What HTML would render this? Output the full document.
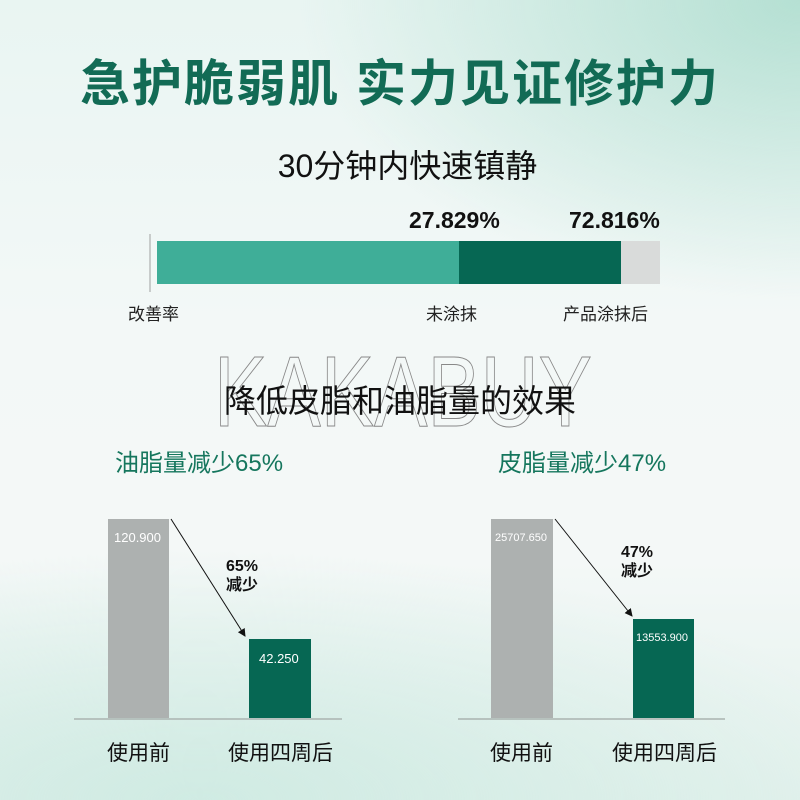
<!DOCTYPE html>
<html><head><meta charset="utf-8"><style>
*{margin:0;padding:0}
body{width:800px;height:800px;overflow:hidden;position:relative;font-family:"Liberation Sans","Noto Sans CJK SC",sans-serif;
background:radial-gradient(ellipse 500px 300px at 800px 0,#b5e0d3 0%,rgba(220,240,234,0) 100%),radial-gradient(ellipse 700px 250px at 200px 800px,#d0ebe3 0%,rgba(240,248,246,0) 100%),linear-gradient(180deg,#e9f5f2 0%,#f3f8f7 40%,#f4f8f7 70%,#e2f1ec 100%);}
.a{position:absolute;white-space:nowrap}
.c{text-align:center}
</style></head><body>
<div class="a c" style="left:0;width:800px;top:44px;font-size:50px;font-weight:bold;color:#126b55;letter-spacing:2px">急护脆弱肌 实力见证修护力</div>
<div class="a c" style="left:0;width:815px;top:141px;font-size:32px;color:#111">30分钟内快速镇静</div>
<div class="a" style="left:409px;top:207px;font-size:23px;font-weight:bold;color:#111">27.829%</div>
<div class="a" style="left:569px;top:207px;font-size:23px;font-weight:bold;color:#111">72.816%</div>
<div class="a" style="left:149px;top:234px;width:2px;height:58px;background:#c8cccb"></div>
<div class="a" style="left:157px;top:241px;width:302px;height:43px;background:#3fae98"></div>
<div class="a" style="left:459px;top:241px;width:162px;height:43px;background:#066753"></div>
<div class="a" style="left:621px;top:241px;width:39px;height:43px;background:#d9dbda"></div>
<div class="a" style="left:128px;top:300px;font-size:17px;color:#222">改善率</div>
<div class="a" style="left:426px;top:300px;font-size:17px;color:#222">未涂抹</div>
<div class="a" style="left:563px;top:300px;font-size:17px;color:#222">产品涂抹后</div>
<div class="a" style="left:214px;top:335px;font-size:100px;color:transparent;-webkit-text-stroke:1px #888;transform:scaleX(0.8);transform-origin:0 0;font-weight:100">KAKABUY</div>
<div class="a c" style="left:0;width:800px;top:376px;font-size:32px;color:#111">降低皮脂和油脂量的效果</div>
<div class="a" style="left:115px;top:443px;font-size:24px;color:#15765d">油脂量减少65%</div>
<div class="a" style="left:498px;top:443px;font-size:24px;color:#15765d">皮脂量减少47%</div>
<svg class="a" style="left:0;top:0" width="800" height="800">
<defs><marker id="m" markerWidth="8" markerHeight="8" refX="7" refY="4" orient="auto"><path d="M0,0 L8,4 L0,8z" fill="#111"/></marker></defs>
<rect x="108" y="519" width="61" height="199" fill="#adb1b0"/>
<rect x="249" y="639" width="62" height="79" fill="#066753"/>
<line x1="74" y1="719" x2="342" y2="719" stroke="#aab3b0" stroke-width="1.5"/>
<line x1="171" y1="519" x2="245" y2="636" stroke="#111" stroke-width="1" marker-end="url(#m)"/>
<rect x="491" y="519" width="62" height="199" fill="#adb1b0"/>
<rect x="633" y="619" width="61" height="99" fill="#066753"/>
<line x1="458" y1="719" x2="725" y2="719" stroke="#aab3b0" stroke-width="1.5"/>
<line x1="555" y1="519" x2="632" y2="616" stroke="#111" stroke-width="1" marker-end="url(#m)"/>
</svg>
<div class="a" style="left:114px;top:530px;font-size:13px;color:#fff">120.900</div>
<div class="a" style="left:259px;top:651px;font-size:13px;color:#fff">42.250</div>
<div class="a" style="left:495px;top:532px;font-size:11px;color:#fff">25707.650</div>
<div class="a" style="left:636px;top:632px;font-size:11px;color:#fff">13553.900</div>
<div class="a" style="left:226px;top:557px;font-size:16px;font-weight:bold;color:#111;line-height:19px">65%<br>减少</div>
<div class="a" style="left:621px;top:543px;font-size:16px;font-weight:bold;color:#111;line-height:19px">47%<br>减少</div>
<div class="a" style="left:107px;top:737px;font-size:21px;color:#111">使用前</div>
<div class="a" style="left:228px;top:737px;font-size:21px;color:#111">使用四周后</div>
<div class="a" style="left:490px;top:737px;font-size:21px;color:#111">使用前</div>
<div class="a" style="left:612px;top:737px;font-size:21px;color:#111">使用四周后</div>
</body></html>
